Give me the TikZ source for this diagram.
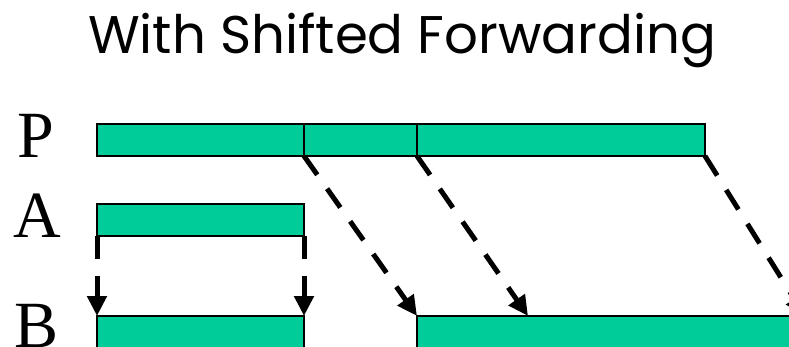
\documentclass[tikz,border=0pt]{standalone}
\usepackage{fontspec}
\setmainfont{Liberation Serif}
\newfontfamily\titlefont{Poppins}
\usetikzlibrary{arrows.meta, positioning}

\definecolor{bargreen}{RGB}{0,204,153}

\begin{document}
\begin{tikzpicture}[x=1pt, y=-1pt]
    \tikzset{
      bar/.style={draw, line width=2pt, fill=bargreen, minimum height=32pt,
                  inner sep=0pt, outer sep=0pt, anchor=north west}, % one stretch of data
      lbl/.style={font=\fontsize{66}{66}\selectfont}, % the big P, A, B letters
      fwd/.style={line width=5pt, dash pattern=on 23pt off 17pt,
                  -{Triangle[length=20pt, width=19pt]}}, % dashed forwarding arrows
    }
    \useasboundingbox (0,0) rectangle (789,347);

    \node[font=\titlefont\fontsize{53}{53}\selectfont] (title) at (402,40) {With Shifted Forwarding};

    \node[lbl] (lp) at (36,136) {P};
    \node[lbl] (la) at (37,216) {A};
    \node[lbl] (lb) at (37,326) {B};

    % P is split in three pieces
    \node[bar, minimum width=207pt] (p1) at (97,124) {};
    \node[bar, minimum width=113pt] (p2) at (304,124) {};
    \node[bar, minimum width=288pt] (p3) at (417,124) {};

    \node[bar, minimum width=207pt] (a) at (97,204) {};

    \node[bar, minimum width=207pt] (b1) at (97,316) {};
    \node[bar, minimum width=400pt] (b2) at (417,316) {};

    \coordinate (off) at (805,316);

    \draw[fwd] (a.south west) -- (b1.north west);
    \draw[fwd] (a.south east) -- (b1.north east);

    \draw[fwd] (p1.south east) -- (b2.north west);
    \draw[fwd] (p2.south east) -- ([xshift=111pt]b2.north west);
    \draw[fwd] (p3.south east) -- (off);
\end{tikzpicture}
\end{document}
